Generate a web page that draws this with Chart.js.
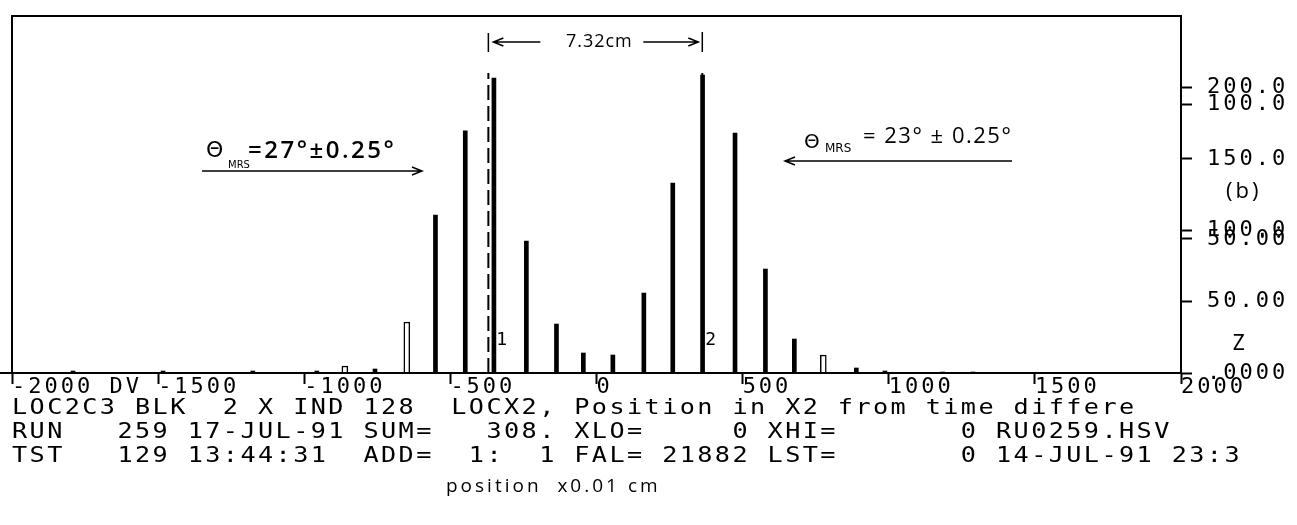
<!DOCTYPE html>
<html>
<head>
<meta charset="utf-8">
<script src="https://cdn.jsdelivr.net/npm/chart.js@4.4.0/dist/chart.umd.min.js"></script>
<style>
  html, body { margin: 0; padding: 0; background: #fff; }
  #wrap { width: 1297px; height: 525px; position: relative; }
</style>
</head>
<body>
<div id="wrap"><canvas id="hist"></canvas></div>
<script>
// LOCX2 bin centres (x0.01 cm) and contents
var binPos = [-1791, -1483, -1176, -957, -861, -758, -649, -551, -449, -351, -240, -137, -45,
              56, 162, 261, 363, 474, 578, 677, 776, 889, 987, 1185, 1288];
var binVal = [1.4, 1.4, 1.4, 1.4, 4.9, 2.8, 35.7, 110.6, 169.5, 206.6, 92.4, 34.3, 14,
              12.6, 56, 133, 208.7, 168, 72.8, 23.8, 12.6, 3.5, 1.4, 0.7, 0.7];

// wire markers (7.32 cm apart) and their numbers
var markerPos = [-370, 362];
var markerLbl = ['1', '2'];
var markerTop = 210;

// x axis
var xMin = -2000, xMax = 2000, xStep = 500;

// Z axis carries two overprinted scales
var zMaxA = 250, zTicksA = [0, 50, 100, 150, 200];
var zMaxB = 133, zTicksB = [50, 100];

// header block printed under the plot
var infoLines = [
  'LOC2C3 BLK  2 X IND 128  LOCX2, Position in X2 from time differe',
  'RUN   259 17-JUL-91 SUM=   308. XLO=     0 XHI=       0 RU0259.HSV',
  'TST   129 13:44:31  ADD=  1:  1 FAL= 21882 LST=       0 14-JUL-91 23:3'
];
var axisNote = 'position  x0.01 cm';
var angleLeft = ['=27\u00b0\u00b10.25\u00b0'];
var angleRight = ['= 23\u00b0 \u00b1 0.25\u00b0'];

var hollowBins = [-861, -649, 776];
var MONO = '"DejaVu Sans Mono", "Liberation Mono", monospace';
var HAND = '"Open Sans", "DejaVu Sans", sans-serif';

function fmtZ(v) {
  if (v === 0) return '.0000';
  return v.toPrecision(4);
}

// combined tick list: scale B values re-expressed in scale A units
var zTickVals = [], zTickText = [];
zTicksA.forEach(function(v) { zTickVals.push(v); zTickText.push(fmtZ(v)); });
zTicksB.forEach(function(v) { zTickVals.push(v * zMaxA / zMaxB); zTickText.push(fmtZ(v)); });

function pick(keep) {
  var out = [];
  binPos.forEach(function(x, i) {
    if ((hollowBins.indexOf(x) >= 0) === keep) out.push({ x: x, y: binVal[i] });
  });
  return out;
}

function arrow(ctx, x1, y, x2) {
  var dir = x2 > x1 ? 1 : -1;
  ctx.beginPath();
  ctx.moveTo(x1, y);
  ctx.lineTo(x2, y);
  ctx.moveTo(x2 - dir * 10, y - 4);
  ctx.lineTo(x2, y);
  ctx.lineTo(x2 - dir * 10, y + 4);
  ctx.stroke();
}

// wide plotter-style text line
function wideText(ctx, t, x, y, sx, gap) {
  ctx.save();
  ctx.translate(x, y);
  ctx.scale(sx, 1);
  ctx.letterSpacing = gap + 'px';
  ctx.fillText(t, 0, 0);
  ctx.restore();
}

var spacing = {
  id: 'spacing',
  beforeDraw: function(chart) { chart.ctx.letterSpacing = '3px'; },
  afterDraw: function(chart) { chart.ctx.letterSpacing = '0px'; }
};

var notes = {
  id: 'notes',
  afterDraw: function(chart) {
    var ctx = chart.ctx, a = chart.chartArea;
    var xs = chart.scales.x;
    ctx.save();
    ctx.strokeStyle = '#000';
    ctx.fillStyle = '#000';

    // frame
    ctx.lineWidth = 2;
    ctx.strokeRect(a.left, a.top, a.right - a.left, a.bottom - a.top);
    ctx.beginPath();
    ctx.moveTo(0, a.bottom);
    ctx.lineTo(a.left, a.bottom);
    ctx.stroke();

    // marker numbers
    ctx.letterSpacing = '0px';
    ctx.font = '18px ' + MONO;
    ctx.textBaseline = 'middle';
    ctx.textAlign = 'left';
    markerLbl.forEach(function(t, i) {
      ctx.fillText(t, xs.getPixelForValue(markerPos[i]) + (i === 0 ? 8 : 3), a.bottom - 33);
    });

    // distance between markers
    var m1 = xs.getPixelForValue(markerPos[0]), m2 = xs.getPixelForValue(markerPos[1]);
    ctx.lineWidth = 1.5;
    ctx.beginPath();
    ctx.moveTo(m1, a.top + 17); ctx.lineTo(m1, a.top + 36);
    ctx.moveTo(m2, a.top + 16); ctx.lineTo(m2, a.top + 36);
    ctx.stroke();
    arrow(ctx, m1 + 52, a.top + 26, m1 + 5);
    arrow(ctx, m2 - 59, a.top + 26, m2 - 4);
    ctx.font = '18px ' + HAND;
    ctx.textAlign = 'center';
    ctx.letterSpacing = '1px';
    ctx.fillText('7.32cm', (m1 + m2) / 2 + 4, a.top + 26);

    // MRS angles
    ctx.textAlign = 'left';
    ctx.textBaseline = 'alphabetic';
    ctx.letterSpacing = '0px';
    ctx.font = '22px "DejaVu Sans", sans-serif';
    ctx.fillText('\u0398', a.left + 194, a.top + 141);
    ctx.font = '10px "DejaVu Sans", sans-serif';
    ctx.fillText('MRS', a.left + 216, a.top + 152);
    ctx.font = '600 24px ' + HAND;
    ctx.letterSpacing = '2.5px';
    ctx.fillText(angleLeft[0], a.left + 236, a.top + 142);
    arrow(ctx, a.left + 190, a.top + 155, a.left + 410);

    ctx.letterSpacing = '0px';
    ctx.font = '20px "DejaVu Sans", sans-serif';
    ctx.fillText('\u0398', a.left + 792, a.top + 132);
    ctx.font = '12px "DejaVu Sans", sans-serif';
    ctx.fillText('MRS', a.left + 813, a.top + 136);
    ctx.font = '22px ' + HAND;
    ctx.letterSpacing = '1.5px';
    ctx.fillText(angleRight[0], a.left + 851, a.top + 127);
    arrow(ctx, a.left + 1000, a.top + 145, a.left + 773);

    // side labels
    ctx.textBaseline = 'middle';
    ctx.font = '22px ' + HAND;
    ctx.letterSpacing = '3px';
    ctx.fillText('(b)', a.right + 45, a.top + 176);
    ctx.letterSpacing = '0px';
    ctx.font = '21px ' + MONO;
    ctx.fillText('Z', a.right + 51, a.bottom - 28);

    // header block
    ctx.font = '21px ' + MONO;
    infoLines.forEach(function(t, i) {
      wideText(ctx, t, a.left, a.bottom + 36 + i * 24, 1.2, 2);
    });
    ctx.font = '19px ' + HAND;
    ctx.letterSpacing = '3px';
    ctx.fillText(axisNote, a.left + 434, a.bottom + 114);
    ctx.restore();
  }
};

var markerSets = markerPos.map(function(x) {
  return {
    type: 'line',
    data: [{ x: x, y: 0 }, { x: x, y: markerTop }],
    borderColor: '#000',
    borderWidth: 2,
    borderDash: [15, 6],
    pointRadius: 0,
    order: 2
  };
});

var config = {
  type: 'bar',
  data: {
    datasets: [{
      data: pick(false),
      backgroundColor: '#000',
      barThickness: 4,
      grouped: false,
      order: 1
    }, {
      data: pick(true),
      backgroundColor: '#fff',
      borderColor: '#000',
      borderWidth: 1.5,
      barThickness: 6,
      grouped: false,
      order: 1
    }].concat(markerSets)
  },
  options: {
    responsive: true,
    maintainAspectRatio: false,
    animation: false,
    devicePixelRatio: 1,
    layout: { padding: { left: 12, top: 16, right: 0, bottom: 0 } },
    plugins: {
      legend: { display: false },
      tooltip: { enabled: false }
    },
    scales: {
      x: {
        type: 'linear',
        min: xMin,
        max: xMax,
        offset: false,
        grid: { drawOnChartArea: false, offset: false, tickLength: 11, tickWidth: 2, tickColor: '#000' },
        border: { display: false },
        afterFit: function(s) { s.height = 152; s.paddingLeft = 0; s.paddingRight = 0; },
        ticks: {
          stepSize: xStep,
          align: 'start',
          autoSkip: false,
          maxRotation: 0,
          minRotation: 0,
          padding: -10,
          color: '#000',
          font: { family: MONO, size: 22 },
          callback: function(v) { return v === xMin ? v + ' DV' : String(v); }
        }
      },
      y: {
        position: 'right',
        min: 0,
        max: zMaxA,
        grid: { drawOnChartArea: false, tickLength: 11, tickWidth: 2, tickColor: '#000' },
        border: { display: false },
        afterFit: function(s) { s.width = 116; s.paddingTop = 0; s.paddingBottom = 0; },
        afterBuildTicks: function(s) {
          s.ticks = zTickVals.map(function(v) { return { value: v }; });
        },
        ticks: {
          autoSkip: false,
          padding: 15,
          color: '#000',
          font: { family: MONO, size: 22 },
          callback: function(v) { return zTickText[zTickVals.indexOf(v)]; }
        }
      }
    }
  },
  plugins: [spacing, notes]
};

window.onload = function() {
  var ctx = document.getElementById('hist').getContext('2d');
  window.myHist = new Chart(ctx, config);
};
</script>
</body>
</html>
